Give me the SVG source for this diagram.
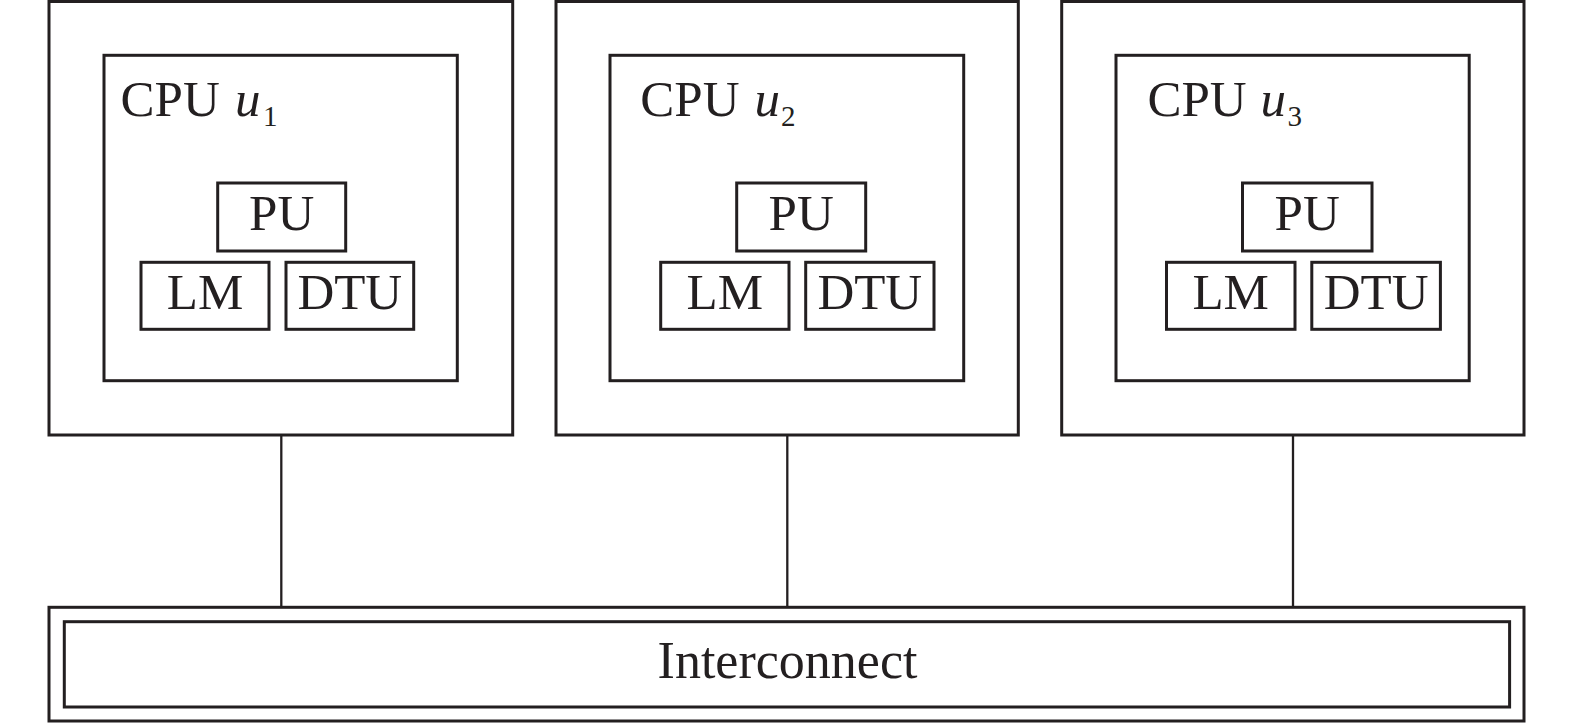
<svg xmlns="http://www.w3.org/2000/svg" width="1575" height="724" viewBox="0 0 1575 724">
<style>
.b{fill:none;stroke:#231f20;stroke-width:3}
.c{fill:none;stroke:#231f20;stroke-width:2.3}
.t{font-family:"Liberation Serif","Times New Roman",serif;font-size:51px;fill:#231f20}
.m{text-anchor:middle}
.i{font-style:italic}
.s{font-size:29px}
</style>
<rect width="1575" height="724" fill="#ffffff"/>
<g id="connectors">
<line class="c" x1="281.3" y1="435" x2="281.3" y2="607.3"/>
<line class="c" x1="787.3" y1="435" x2="787.3" y2="607.3"/>
<line class="c" x1="1293" y1="435" x2="1293" y2="607.3"/>
</g>
<g id="cpu1">
<rect class="b" x="49" y="1.5" width="463.7" height="433.5"/>
<rect class="b" x="104" y="55.3" width="353.3" height="325.4"/>
<text class="t" x="120.6" y="116">CPU</text>
<text class="t i" x="235" y="116">u</text>
<text class="t s" x="263" y="126">1</text>
<g id="pu1"><rect class="b" x="217.7" y="183" width="128" height="68"/><text class="t m" x="281.7" y="230">PU</text></g>
<g id="lm1"><rect class="b" x="141" y="262.3" width="128" height="67"/><text class="t m" x="205" y="309.3">LM</text></g>
<g id="dtu1"><rect class="b" x="286" y="262.3" width="127.7" height="67"/><text class="t m" x="349.8" y="309.3">DTU</text></g>
</g>
<g id="cpu2">
<rect class="b" x="556" y="1.5" width="462.3" height="433.5"/>
<rect class="b" x="610" y="55.3" width="353.7" height="325.4"/>
<text class="t" x="640.3" y="116">CPU</text>
<text class="t i" x="754.5" y="116">u</text>
<text class="t s" x="781" y="126">2</text>
<g id="pu2"><rect class="b" x="736.7" y="183" width="129" height="68"/><text class="t m" x="801.2" y="230">PU</text></g>
<g id="lm2"><rect class="b" x="660.7" y="262.3" width="128.3" height="67"/><text class="t m" x="724.8" y="309.3">LM</text></g>
<g id="dtu2"><rect class="b" x="805.7" y="262.3" width="128.3" height="67"/><text class="t m" x="869.8" y="309.3">DTU</text></g>
</g>
<g id="cpu3">
<rect class="b" x="1061.7" y="1.5" width="462.3" height="433.5"/>
<rect class="b" x="1116" y="55.3" width="353.2" height="325.4"/>
<text class="t" x="1147.4" y="116">CPU</text>
<text class="t i" x="1260.4" y="116">u</text>
<text class="t s" x="1287.5" y="126">3</text>
<g id="pu3"><rect class="b" x="1242.5" y="183" width="129.5" height="68"/><text class="t m" x="1307.2" y="230">PU</text></g>
<g id="lm3"><rect class="b" x="1166.5" y="262.3" width="128.5" height="67"/><text class="t m" x="1230.7" y="309.3">LM</text></g>
<g id="dtu3"><rect class="b" x="1311.8" y="262.3" width="128.6" height="67"/><text class="t m" x="1376.1" y="309.3">DTU</text></g>
</g>
<g id="interconnect">
<rect class="b" x="49" y="607.3" width="1475" height="113.7"/>
<rect class="b" x="64.3" y="621.7" width="1445.3" height="85.3"/>
<text class="t m" x="787.5" y="678.3" style="font-size:52px">Interconnect</text>
</g>
</svg>
